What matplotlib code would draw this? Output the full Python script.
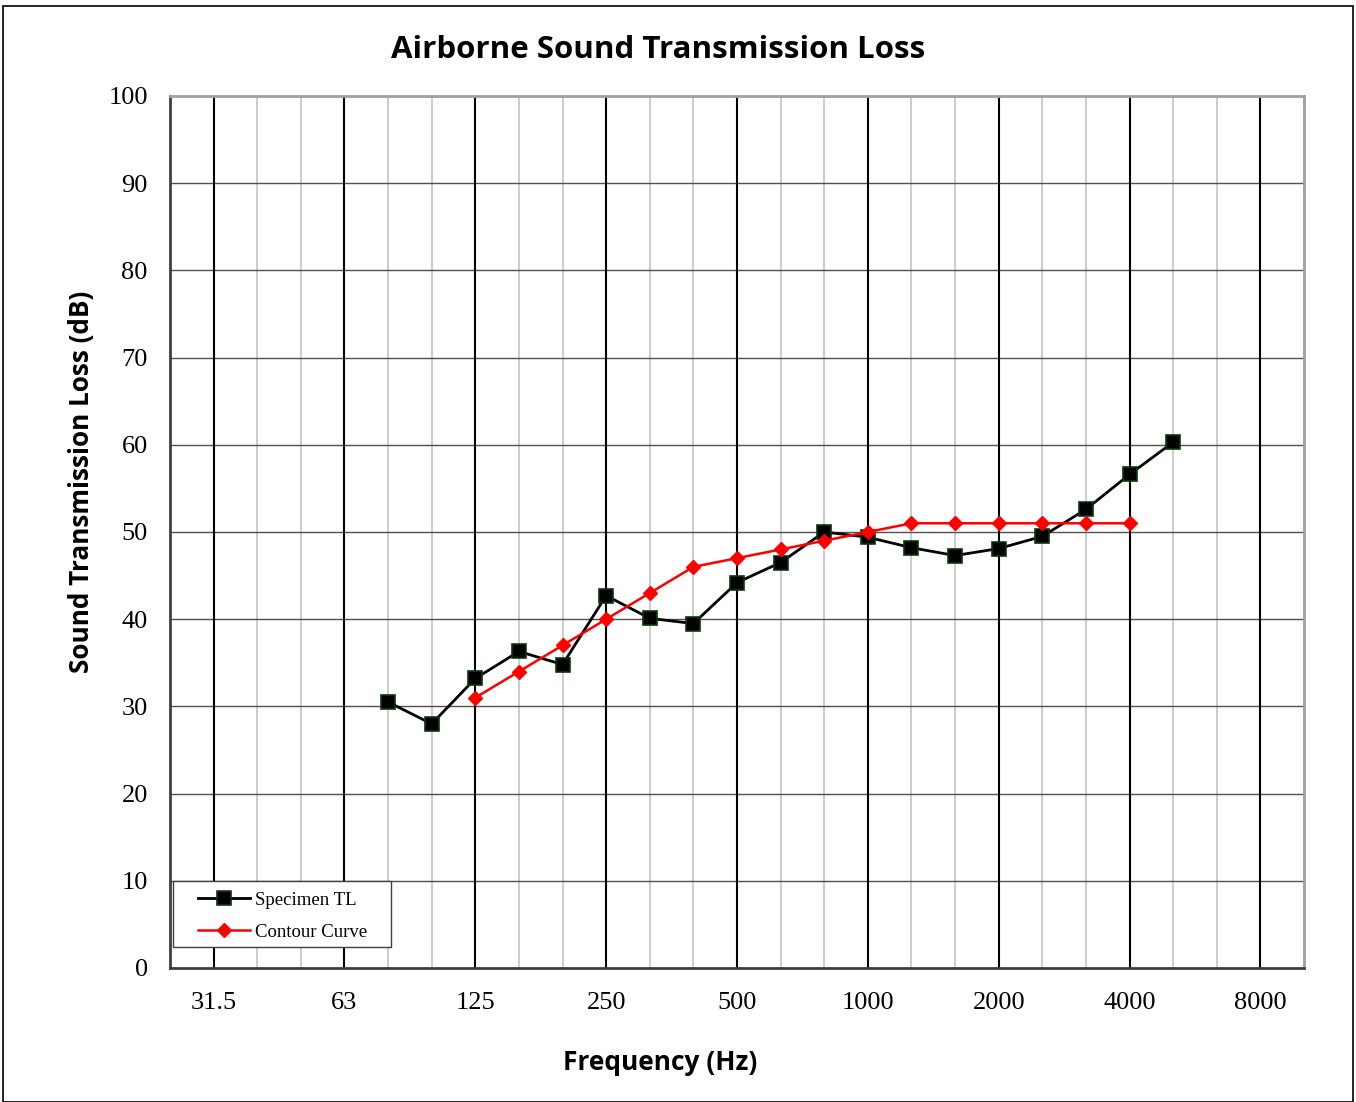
import matplotlib
matplotlib.use("Agg")
import matplotlib.pyplot as plt
from matplotlib.patches import Rectangle

bands = ["25", "31.5", "40", "50", "63", "80", "100", "125", "160", "200", "250", "315",
         "400", "500", "630", "800", "1000", "1250", "1600", "2000", "2500", "3150",
         "4000", "5000", "6300", "8000", "10000"]
tick_labels = ["31.5", "63", "125", "250", "500", "1000", "2000", "4000", "8000"]

specimen_bands = ["80", "100", "125", "160", "200", "250", "315", "400", "500", "630",
                  "800", "1000", "1250", "1600", "2000", "2500", "3150", "4000", "5000"]
specimen_tl = [30.5, 28.0, 33.2, 36.3, 34.8, 42.7, 40.1, 39.5, 44.2, 46.5,
               50.0, 49.4, 48.2, 47.3, 48.1, 49.5, 52.6, 56.6, 60.3]

contour_bands = ["125", "160", "200", "250", "315", "400", "500", "630", "800", "1000",
                 "1250", "1600", "2000", "2500", "3150", "4000"]
contour_tl = [31, 34, 37, 40, 43, 46, 47, 48, 49, 50, 51, 51, 51, 51, 51, 51]

W, H = 1356, 1102
AW, AH = 1134, 872
fig = plt.figure(figsize=(W / 100, H / 100), dpi=100)
fig.patches.append(Rectangle((3 / W, 0), (W - 6) / W, (H - 6) / H, transform=fig.transFigure,
                             fill=False, edgecolor="black", linewidth=1.2))

ax = fig.add_axes([170 / W, (H - 968) / H, AW / W, AH / H])

idx = {b: i for i, b in enumerate(bands)}
xs_spec = [idx[b] for b in specimen_bands]
xs_cont = [idx[b] for b in contour_bands]
major_idx = [idx[b] for b in tick_labels]
minor_idx = [i for i in range(len(bands)) if i not in major_idx]

ax.set_xlim(0, len(bands) - 1)
ax.set_ylim(0, 100)

for i in minor_idx:
    ax.axvline(i, color="#c8c8c8", linewidth=1.3, zorder=1)
for i in major_idx:
    ax.axvline(i, color="black", linewidth=1.5, zorder=1.2)
for y in range(10, 100, 10):
    ax.axhline(y, color="#505050", linewidth=1.0, zorder=1.1)

ax.plot(xs_spec, specimen_tl, color="black", linewidth=2.0, marker="s", markersize=10,
        markerfacecolor="black", markeredgecolor="#0a3a0a", markeredgewidth=1.2,
        zorder=3, label="Specimen TL")
ax.plot(xs_cont, contour_tl, color="#ff0000", linewidth=1.8, marker="D", markersize=7.5,
        markerfacecolor="#ff0000", markeredgecolor="#ff0000", zorder=4, label="Contour Curve")

ax.set_xticks(major_idx)
ax.set_xticklabels(tick_labels, fontfamily="Liberation Serif", fontsize=19)
ax.set_yticks(range(0, 101, 10))
ax.set_yticklabels([str(v) for v in range(0, 101, 10)], fontfamily="Liberation Serif", fontsize=19)
ax.tick_params(axis="both", length=0)
ax.tick_params(axis="x", pad=17.5)
ax.tick_params(axis="y", pad=16)

for s in ["top", "right"]:
    ax.spines[s].set_color("#a0a0a0")
    ax.spines[s].set_linewidth(2)
for s in ["left", "bottom"]:
    ax.spines[s].set_color("#404040")
    ax.spines[s].set_linewidth(2)

fig.text(658 / W, 1 - 50 / H, "Airborne Sound Transmission Loss", ha="center", va="center",
         fontfamily="Open Sans", fontweight="bold", fontsize=22.5)
fig.text(660 / W, 1 - 1062 / H, "Frequency (Hz)", ha="center", va="center",
         fontfamily="Open Sans", fontweight="bold", fontsize=19)
fig.text(82 / W, 1 - 482 / H, "Sound Transmission Loss (dB)", ha="center", va="center",
         rotation=90, fontfamily="Open Sans", fontweight="bold", fontsize=18.8)

# legend frame drawn separately to match the wide box of the reference
ax.add_patch(Rectangle((3 / AW, 21 / AH), 218 / AW, 66 / AH, transform=ax.transAxes,
                       facecolor="white", edgecolor="#404040", linewidth=1.0, zorder=5))
leg = ax.legend(loc="lower left", bbox_to_anchor=(28 / AW, 27 / AH), frameon=False,
                prop={"family": "Liberation Serif", "size": 13.5},
                handlelength=2.75, borderpad=0, labelspacing=0.8, handletextpad=0.3,
                borderaxespad=0)
leg.set_zorder(6)

fig.savefig("out.png", dpi=100)
